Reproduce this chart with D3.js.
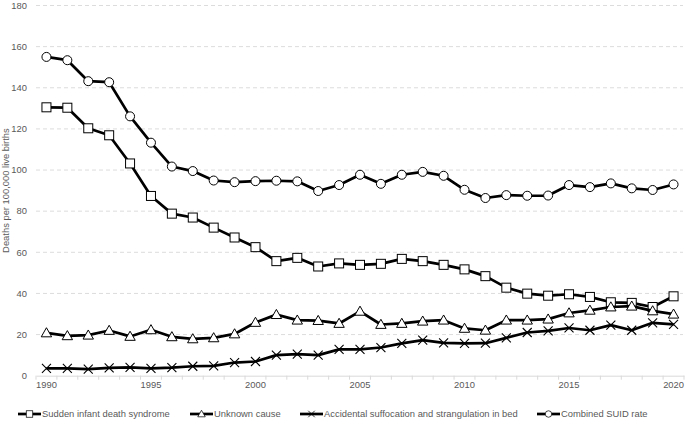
<!DOCTYPE html>
<html>
<head>
<meta charset="utf-8">
<script src="https://cdn.jsdelivr.net/npm/d3@7"></script>
<style>
  html, body { margin: 0; padding: 0; background: #fff; }
  svg { display: block; font-family: "Liberation Sans", Arial, sans-serif; }
</style>
</head>
<body>
<svg id="chart" width="685" height="425"></svg>
<script>
const years = d3.range(1990, 2021);
const xTickLabels = [1990, 1995, 2000, 2005, 2010, 2015, 2020];
const yTicks = [0, 20, 40, 60, 80, 100, 120, 140, 160, 180];

const seriesNames = ["Sudden infant death syndrome", "Unknown cause", "Accidental suffocation and strangulation in bed", "Combined SUID rate"];
const seriesMarkers = ["square", "triangle", "cross", "circle"];

const sids = [130.5, 130.3, 120.3, 116.9, 103.2, 87.4, 78.8, 76.9, 72.0, 67.2, 62.5,
  55.7, 57.3, 53.1, 54.6, 53.9, 54.4, 56.8, 55.7, 53.9, 51.7,
  48.4, 42.8, 39.9, 38.9, 39.6, 38.3, 35.7, 35.4, 33.4, 38.6];
const unknown = [20.8, 19.4, 19.7, 22.0, 19.1, 22.3, 18.9, 17.9, 18.4, 20.3, 25.9,
  29.7, 27.0, 26.8, 25.4, 31.3, 24.9, 25.4, 26.5, 27.0, 23.0,
  22.1, 27.0, 27.0, 27.5, 30.5, 31.8, 33.4, 33.8, 31.5, 29.9];
const accidental = [3.6, 3.6, 3.2, 3.8, 4.0, 3.6, 3.9, 4.6, 4.8, 6.4, 6.9,
  10.0, 10.5, 10.0, 12.8, 12.8, 13.7, 15.7, 17.3, 16.0, 15.7,
  15.8, 18.4, 21.0, 21.8, 23.2, 22.1, 24.6, 22.1, 25.7, 25.0];
const combined = [155.0, 153.4, 143.2, 142.7, 126.1, 113.3, 101.7, 99.5, 94.9, 94.1, 94.6,
  94.8, 94.5, 89.8, 92.7, 97.7, 93.3, 97.7, 99.1, 97.2, 90.4,
  86.4, 87.8, 87.5, 87.6, 92.7, 91.7, 93.5, 91.1, 90.3, 93.0];

const seriesValues = [sids, unknown, accidental, combined];

(function () {
const svg = d3.select("#chart");
const mLeft = 36, mRight = 685, mTop = 5.5, mBottom = 375.7;
const fs = 9.4;

const x = d3.scaleBand().domain(years).range([mLeft, mRight - 1]);
const xc = d => x(d) + x.bandwidth() / 2;
const y = d3.scaleLinear().domain([0, 180]).range([mBottom, mTop]);

// gridlines
svg.append("g").selectAll("line").data(yTicks.filter(t => t > 0)).join("line")
  .attr("x1", mLeft).attr("x2", mRight - 2)
  .attr("y1", d => y(d)).attr("y2", d => y(d))
  .attr("stroke", "#dcdcdc").attr("stroke-width", 1).attr("stroke-dasharray", "4,3");

// y tick labels
svg.append("g").selectAll("text").data(yTicks).join("text")
  .attr("x", 27).attr("y", d => y(d)).attr("dy", "0.35em")
  .attr("text-anchor", "end").attr("font-size", fs).attr("fill", "#595959")
  .text(d => d);

// x axis
const xAxis = d3.axisBottom(x).tickValues(xTickLabels).tickSize(0).tickFormat(d3.format("d"));
const gx = svg.append("g").attr("transform", `translate(0,${mBottom})`).call(xAxis);
gx.select(".domain").attr("stroke", "#d9d9d9");
gx.selectAll("text").attr("font-size", fs).attr("fill", "#595959").attr("dy", "1.0em")
  .attr("font-family", "Liberation Sans, Arial, sans-serif");
const bounds = years.map(d => x(d)).concat([x(years[years.length - 1]) + x.bandwidth()]);
svg.append("g").selectAll("line").data(bounds).join("line")
  .attr("x1", d => d).attr("x2", d => d)
  .attr("y1", mBottom).attr("y2", mBottom + 4)
  .attr("stroke", "#d9d9d9").attr("stroke-width", 1);

// y axis title
svg.append("text")
  .attr("transform", `translate(6,${(mTop + mBottom) / 2}) rotate(-90)`)
  .attr("text-anchor", "middle").attr("dy", "0.35em")
  .attr("font-size", fs).attr("fill", "#595959")
  .text("Deaths per 100,000 live births");

function drawMarker(g, type, cx, cy) {
  if (type === "circle") {
    g.append("circle").attr("cx", cx).attr("cy", cy).attr("r", 4.5)
      .attr("fill", "#fff").attr("stroke", "#000").attr("stroke-width", 1);
  } else if (type === "square") {
    g.append("rect").attr("x", cx - 4.5).attr("y", cy - 4.5).attr("width", 9).attr("height", 9)
      .attr("fill", "#fff").attr("stroke", "#000").attr("stroke-width", 1);
  } else if (type === "triangle") {
    const s = 5.2;
    g.append("path").attr("d", `M${cx},${cy - s}L${cx + s},${cy + s * 0.75}L${cx - s},${cy + s * 0.75}Z`)
      .attr("fill", "#fff").attr("stroke", "#000").attr("stroke-width", 1);
  } else if (type === "cross") {
    const s = 4.5;
    g.append("path").attr("d", `M${cx - s},${cy - s}L${cx + s},${cy + s}M${cx - s},${cy + s}L${cx + s},${cy - s}`)
      .attr("fill", "none").attr("stroke", "#000").attr("stroke-width", 1.1);
  }
}

const line = d3.line().x((d, i) => xc(years[i])).y(d => y(d));

seriesValues.forEach((vals, si) => {
  const g = svg.append("g");
  g.append("path").datum(vals).attr("d", line)
    .attr("fill", "none").attr("stroke", "#000").attr("stroke-width", 2.7)
    .attr("stroke-linejoin", "round");
  vals.forEach((v, i) => drawMarker(g, seriesMarkers[si], xc(years[i]), y(v)));
});

// legend
const legendX = [18, 190, 300, 537];
const legendY = 414;
seriesNames.forEach((name, i) => {
  const g = svg.append("g");
  const lx = legendX[i];
  g.append("line").attr("x1", lx).attr("x2", lx + 23).attr("y1", legendY).attr("y2", legendY)
    .attr("stroke", "#000").attr("stroke-width", 2.7);
  const mk = g.append("g").attr("transform", `translate(${lx + 11.5},${legendY}) scale(0.72) translate(${-(lx + 11.5)},${-legendY})`);
  drawMarker(mk, seriesMarkers[i], lx + 11.5, legendY);
  g.append("text").attr("x", lx + 24).attr("y", legendY).attr("dy", "0.35em")
    .attr("font-size", fs).attr("fill", "#595959").text(name);
});
})();
</script>
</body>
</html>
